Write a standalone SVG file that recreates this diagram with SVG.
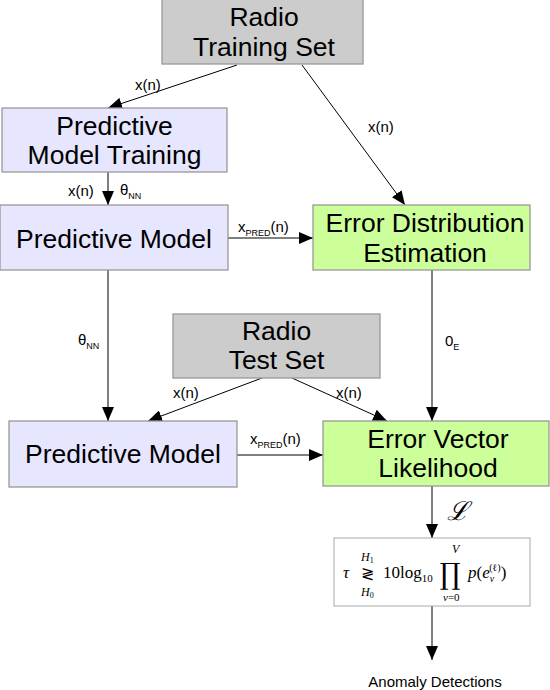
<svg xmlns="http://www.w3.org/2000/svg" width="550" height="690" viewBox="0 0 550 690">
<style>
.n{stroke:#999;stroke-width:1.3}
.gray{fill:#cccccc}
.lav{fill:#e6e6ff}
.grn{fill:#ccff99}
.t{font-family:"Liberation Sans",Arial,sans-serif;font-size:26.5px;fill:#000;text-anchor:middle}
.l{font-family:"Liberation Sans",Arial,sans-serif;font-size:15px;fill:#000}
.s{font-size:9px}
.c{stroke:#000;stroke-width:1;fill:none;marker-end:url(#a)}
.m{font-family:"Liberation Serif","Times New Roman",serif;fill:#000}
</style>
<defs>
<marker id="a" viewBox="0 0 14 12" refX="14" refY="6" markerWidth="14" markerHeight="12" markerUnits="userSpaceOnUse" orient="auto">
<path d="M0,0L14,6L0,12z" fill="#000"/>
</marker>
</defs>
<g id="connectors">
<path class="c" d="M237,65L108,108"/>
<path class="c" d="M302,65L405,205"/>
<path class="c" d="M108,172L108,205"/>
<path class="c" d="M228,238L313,238"/>
<path class="c" d="M108,270L108,421"/>
<path class="c" d="M432,270L432,421"/>
<path class="c" d="M262,378L148,421"/>
<path class="c" d="M292,378L387,421"/>
<path class="c" d="M237,455L323,455"/>
<path class="c" d="M432,486L432,538"/>
<path class="c" d="M432,606L432,660"/>
<text class="l" x="135" y="90">x(n)</text>
<text class="l" x="368" y="132">x(n)</text>
<text class="l" x="68" y="196" font-size="17">x(n)</text>
<text class="l" x="120" y="195">θ<tspan class="s" dy="4">NN</tspan></text>
<text class="l" x="238" y="232">x<tspan class="s" dy="4">PRED</tspan><tspan dy="-4">(n)</tspan></text>
<text class="l" x="78" y="345">θ<tspan class="s" dy="4">NN</tspan></text>
<text class="l" x="445" y="346">0<tspan class="s" dy="4">E</tspan></text>
<text class="l" x="173" y="398">x(n)</text>
<text class="l" x="336" y="398">x(n)</text>
<text class="l" x="250" y="444">x<tspan class="s" dy="4">PRED</tspan><tspan dy="-4">(n)</tspan></text>
<text class="m" x="447" y="520" font-size="26" font-style="italic">ℒ</text>
</g>
<g id="radio-training-set">
<rect class="n gray" x="162" y="-1" width="201" height="65"/>
<text class="t" x="264" y="26">Radio</text>
<text class="t" x="264" y="56">Training Set</text>
</g>
<g id="predictive-model-training">
<rect class="n lav" x="2" y="108" width="225" height="64"/>
<text class="t" x="114.5" y="135">Predictive</text>
<text class="t" x="114.5" y="164">Model Training</text>
</g>
<g id="predictive-model-1">
<rect class="n lav" x="0" y="205" width="228" height="65"/>
<text class="t" x="114" y="248">Predictive Model</text>
</g>
<g id="error-distribution-estimation">
<rect class="n grn" x="313" y="205" width="217" height="65"/>
<text class="t" x="425" y="232">Error Distribution</text>
<text class="t" x="425" y="262">Estimation</text>
</g>
<g id="radio-test-set">
<rect class="n gray" x="173" y="314" width="207" height="64"/>
<text class="t" x="276.5" y="340">Radio</text>
<text class="t" x="276.5" y="369">Test Set</text>
</g>
<g id="predictive-model-2">
<rect class="n lav" x="9" y="421" width="228" height="66"/>
<text class="t" x="123" y="463">Predictive Model</text>
</g>
<g id="error-vector-likelihood">
<rect class="n grn" x="323" y="421" width="226" height="65"/>
<text class="t" x="438" y="448">Error Vector</text>
<text class="t" x="438" y="477">Likelihood</text>
</g>
<g id="decision-rule">
<rect x="334" y="538" width="196" height="68" fill="#fff" stroke="#aaa" stroke-width="1"/>
<text class="m" x="343" y="578" font-size="17" font-style="italic">τ</text>
<text class="m" x="361" y="579" font-size="16">≷</text>
<text class="m" x="361" y="561" font-size="12" font-style="italic">H<tspan font-size="8" font-style="normal" dy="2">1</tspan></text>
<text class="m" x="361" y="596" font-size="12" font-style="italic">H<tspan font-size="8" font-style="normal" dy="2">0</tspan></text>
<text class="m" x="383" y="578" font-size="17">10log<tspan font-size="11" dy="4">10</tspan></text>
<text x="450" y="584" font-size="26" text-anchor="middle" font-family="'DejaVu Serif',serif" fill="#000" transform="translate(450 584) scale(1 1.12) translate(-450 -584)">∏</text>
<text class="m" x="452" y="553" font-size="12" font-style="italic">V</text>
<text class="m" x="443" y="601" font-size="11"><tspan font-style="italic">v</tspan>=0</text>
<text class="m" x="468" y="578" font-size="17"><tspan font-style="italic">p</tspan>(<tspan font-style="italic">e</tspan><tspan font-size="10" font-style="italic" dy="4">v</tspan><tspan font-size="10" dx="-5" dy="-11">(ℓ)</tspan><tspan dy="7">)</tspan></text>
</g>
<g id="anomaly-detections">
<text class="l" x="435" y="687" text-anchor="middle" font-size="15.5">Anomaly Detections</text>
</g>
</svg>
